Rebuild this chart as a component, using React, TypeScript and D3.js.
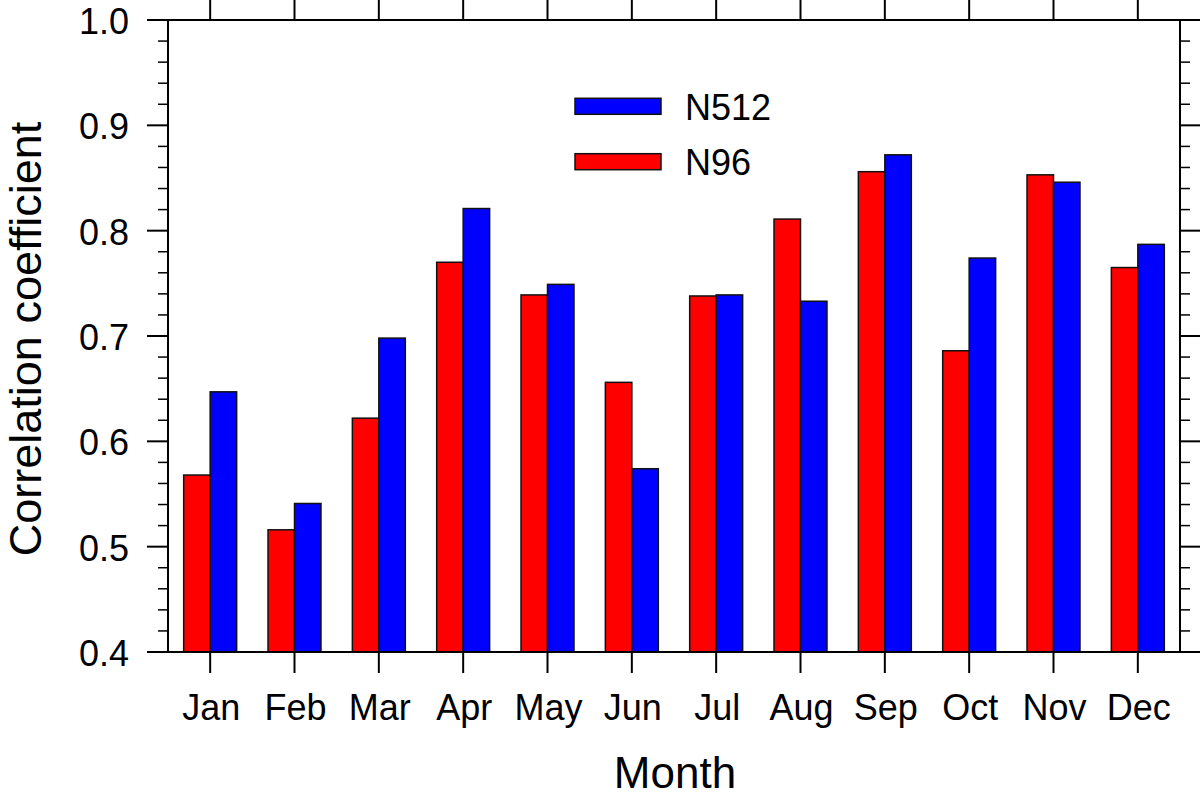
import React, { useEffect, useRef } from "react";
import * as d3 from "d3";

const months = ["Jan", "Feb", "Mar", "Apr", "May", "Jun", "Jul", "Aug", "Sep", "Oct", "Nov", "Dec"];
const n96 = [0.568, 0.516, 0.622, 0.770, 0.739, 0.656, 0.738, 0.811, 0.856, 0.686, 0.853, 0.765];
const n512 = [0.647, 0.541, 0.698, 0.821, 0.749, 0.574, 0.739, 0.733, 0.872, 0.774, 0.846, 0.787];
const yTicks = [0.4, 0.5, 0.6, 0.7, 0.8, 0.9, 1.0];
const legendItems = [
  { label: "N512", color: "#0000ff" },
  { label: "N96", color: "#ff0000" },
];

const W = 1200;
const H = 798;
const FONT = "'Liberation Sans', Arial, Helvetica, sans-serif";

export default function App() {
  const ref = useRef<SVGSVGElement | null>(null);

  useEffect(() => {
    document.body.style.margin = "0";
    const svg = d3.select(ref.current);
    svg.selectAll("*").remove();

    const left = 168, right = 1180, top = 20, bottom = 652;
    const x = d3.scaleLinear().domain([0.5, 12.5]).range([left, right]);
    const y = d3.scaleLinear().domain([0.4, 1.0]).range([bottom, top]);
    const step = x(2) - x(1);
    const bw = step * 0.314;

    const g = svg.append("g");

    // bars
    const bars = g.append("g");
    months.forEach((m, i) => {
      const cx = x(i + 1);
      bars.append("rect")
        .attr("x", cx - bw).attr("y", y(n96[i]))
        .attr("width", bw).attr("height", y(0.4) - y(n96[i]))
        .attr("fill", "#ff0000").attr("stroke", "#111").attr("stroke-width", 1.5);
      bars.append("rect")
        .attr("x", cx).attr("y", y(n512[i]))
        .attr("width", bw).attr("height", y(0.4) - y(n512[i]))
        .attr("fill", "#0000ff").attr("stroke", "#111").attr("stroke-width", 1.5);
    });

    // frame
    const ax = g.append("g").attr("stroke", "#000").attr("stroke-width", 2).attr("fill", "none");
    ax.append("rect").attr("x", left).attr("y", top).attr("width", right - left).attr("height", bottom - top);

    // y ticks
    const minor = d3.range(0, 31).map((k) => 0.4 + k * 0.02).filter((v) => Math.round(v * 100) % 10 !== 0);
    yTicks.forEach((v) => {
      ax.append("line").attr("x1", left - 21).attr("x2", left).attr("y1", y(v)).attr("y2", y(v));
      ax.append("line").attr("x1", right).attr("x2", right + 21).attr("y1", y(v)).attr("y2", y(v));
    });
    minor.forEach((v) => {
      ax.append("line").attr("x1", left - 10).attr("x2", left).attr("y1", y(v)).attr("y2", y(v)).attr("stroke-width", 1.5);
      ax.append("line").attr("x1", right).attr("x2", right + 10).attr("y1", y(v)).attr("y2", y(v)).attr("stroke-width", 1.5);
    });
    // x ticks
    months.forEach((m, i) => {
      const cx = x(i + 1);
      ax.append("line").attr("x1", cx).attr("x2", cx).attr("y1", bottom).attr("y2", bottom + 21);
      ax.append("line").attr("x1", cx).attr("x2", cx).attr("y1", top).attr("y2", top - 21);
    });

    // labels
    const txt = g.append("g").attr("font-family", FONT).attr("fill", "#000");
    yTicks.forEach((v) => {
      txt.append("text").attr("x", 129).attr("y", y(v) + 14)
        .attr("text-anchor", "end").attr("font-size", 36).text(d3.format(".1f")(v));
    });
    months.forEach((m, i) => {
      txt.append("text").attr("x", x(i + 1) + 1).attr("y", 720)
        .attr("text-anchor", "middle").attr("font-size", 36).text(m);
    });
    txt.append("text").attr("x", 675).attr("y", 788)
      .attr("text-anchor", "middle").attr("font-size", 44).text("Month");
    txt.append("text").attr("transform", `translate(41,${(top + bottom) / 2 + 3}) rotate(-90)`)
      .attr("text-anchor", "middle").attr("font-size", 45).text("Correlation coefficient");

    // legend
    const lg = g.append("g");
    const legendY = [106.3, 161.7];
    legendItems.forEach((it, i) => {
      lg.append("rect").attr("x", 575).attr("y", legendY[i] - 8).attr("width", 86).attr("height", 16)
        .attr("fill", it.color).attr("stroke", "#111").attr("stroke-width", 1.5);
      lg.append("text").attr("x", 685).attr("y", legendY[i] + 13.5)
        .attr("font-family", FONT).attr("font-size", 36).text(it.label);
    });
  }, []);

  return (
    <svg ref={ref} width={W} height={H} style={{ position: "absolute", left: 0, top: 0, background: "#fff" }} />
  );
}
